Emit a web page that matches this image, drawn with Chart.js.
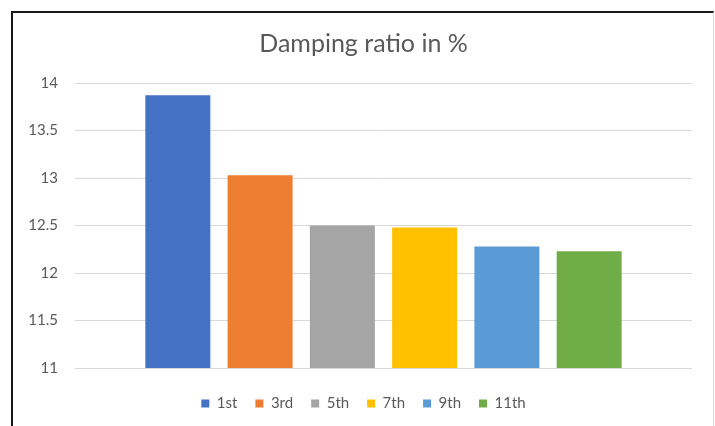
<!DOCTYPE html>
<html>
<head>
<meta charset="utf-8">
<script src="https://cdn.jsdelivr.net/npm/chart.js@4/dist/chart.umd.min.js"></script>
<style>
  html, body { margin: 0; padding: 0; background: #ffffff; }
  #wrap { position: relative; width: 715px; height: 426px; overflow: hidden; }
  #frame { position: absolute; left: 11px; top: 11px; width: 700px; height: 430px;
           border-top: 2px solid #1a1a1a; border-left: 2px solid #1a1a1a; border-right: 1px solid #d9d9d9;
           pointer-events: none; }
  canvas { position: absolute; left: 0; top: 0; }
</style>
</head>
<body>
<div id="wrap">
  <canvas id="c" width="715" height="426"></canvas>
  <div id="frame"></div>
</div>
<script>
const chartTitle = 'Damping ratio in %';
const categories = [''];
const seriesNames = ['1st', '3rd', '5th', '7th', '9th', '11th'];
const seriesValues = [13.87, 13.03, 12.50, 12.48, 12.28, 12.23];
const seriesColors = ['#4472C4', '#ED7D31', '#A5A5A5', '#FFC000', '#5B9BD5', '#70AD47'];
const yTickLabels = ['11', '11.5', '12', '12.5', '13', '13.5', '14'];
const yMin = 11, yMax = 14, yStep = 0.5;

const FONT = 'Lato, "Open Sans", sans-serif';
const TEXT = '#595959';

const datasets = seriesNames.map((name, i) => ({
  label: name,
  data: [seriesValues[i]],
  backgroundColor: seriesColors[i],
  borderWidth: 0,
  categoryPercentage: 0.80,
  barPercentage: 0.79
}));

new Chart(document.getElementById('c'), {
  type: 'bar',
  data: { labels: categories, datasets },
  options: {
    responsive: false,
    animation: false,
    devicePixelRatio: 1,
    layout: { padding: { left: 12, right: 0, top: 12, bottom: 5 } },
    plugins: {
      title: {
        display: true,
        text: chartTitle,
        color: TEXT,
        font: { family: FONT, size: 25, weight: 'normal' },
        padding: { top: 17, bottom: 24 }
      },
      legend: {
        position: 'bottom',
        labels: {
          color: TEXT,
          font: { family: FONT, size: 15 },
          boxWidth: 8,
          boxHeight: 8,
          padding: 18
        }
      },
      tooltip: { enabled: false }
    },
    scales: {
      x: {
        display: true,
        grid: { display: false },
        border: { display: false },
        ticks: { display: false },
        afterFit: (s) => { s.height = 10; }
      },
      y: {
        min: yMin,
        max: yMax,
        ticks: {
          stepSize: yStep,
          color: TEXT,
          font: { family: FONT, size: 15 },
          padding: 17,
          callback: (v, i) => yTickLabels[i]
        },
        grid: { color: '#D9D9D9', lineWidth: 1, drawTicks: false },
        border: { display: false },
        afterFit: (s) => { s.width = 63; }
      },
      y2: {
        position: 'right',
        display: true,
        min: yMin,
        max: yMax,
        ticks: { display: false },
        grid: { display: false },
        border: { display: false },
        afterFit: (s) => { s.width = 23; }
      }
    }
  }
});
</script>
</body>
</html>
